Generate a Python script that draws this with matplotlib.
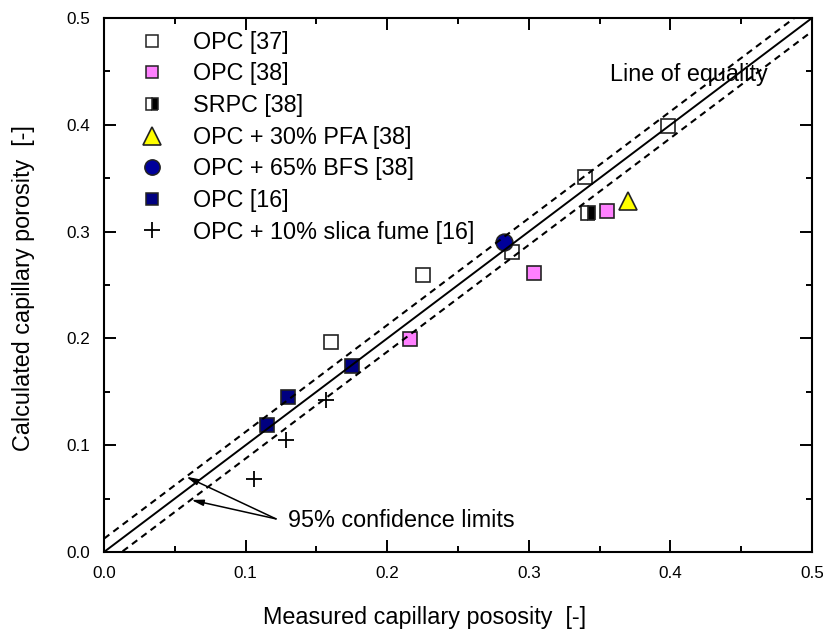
import matplotlib
matplotlib.use("Agg")
import matplotlib.pyplot as plt
from matplotlib.lines import Line2D

plt.rcParams['font.family'] = ['Liberation Sans', 'DejaVu Sans']

# Measured vs calculated capillary porosity, by mix and source
opc37_x = [0.160, 0.225, 0.288, 0.340, 0.398]
opc37_y = [0.197, 0.259, 0.281, 0.351, 0.399]

opc38_x = [0.216, 0.304, 0.355]
opc38_y = [0.199, 0.261, 0.319]

srpc38_x = [0.342]
srpc38_y = [0.317]

pfa38_x = [0.370]
pfa38_y = [0.329]

bfs38_x = [0.2825]
bfs38_y = [0.290]

opc16_x = [0.1153, 0.130, 0.1754]
opc16_y = [0.119, 0.145, 0.174]

sf16_x = [0.106, 0.1285, 0.1566]
sf16_y = [0.068, 0.105, 0.142]

labels = ["OPC [37]", "OPC [38]", "SRPC [38]", "OPC + 30% PFA [38]",
          "OPC + 65% BFS [38]", "OPC [16]", "OPC + 10% slica fume [16]"]

equality_x = [0.0, 0.5]
conf_offset = 0.0125

ticks = [0.0, 0.1, 0.2, 0.3, 0.4, 0.5]
tick_labels = ["0.0", "0.1", "0.2", "0.3", "0.4", "0.5"]

pink = '#FF80FF'
navy = '#000080'
edge = '#222222'

fig = plt.figure(figsize=(8.23, 6.32), dpi=100)
ax = fig.add_axes([104 / 823, 80 / 632, 708 / 823, 534 / 632])

ms_sq = 10.6
ax.plot(opc37_x, opc37_y, 's', ms=ms_sq, mfc='white', mec=edge, mew=1.2, zorder=3)
ax.plot(opc38_x, opc38_y, 's', ms=ms_sq, mfc=pink, mec=edge, mew=1.2, zorder=3)
ax.plot(srpc38_x, srpc38_y, 's', ms=ms_sq, fillstyle='right', mfc='black',
        mfcalt='white', mec=edge, mew=1.2, zorder=3)
ax.plot(pfa38_x, pfa38_y, '^', ms=12.5, mfc='#FFFF00', mec=edge, mew=1.2, zorder=3)
ax.plot(opc16_x, opc16_y, 's', ms=ms_sq, mfc=navy, mec=edge, mew=1.2, zorder=3)
ax.plot(sf16_x, sf16_y, '+', ms=12, mec='black', mew=1.3, zorder=3)
ax.plot(bfs38_x, bfs38_y, 'o', ms=12, mfc='#00009A', mec=edge, mew=1.2, zorder=3.5)

# Line of equality and 95% confidence band
ax.plot(equality_x, equality_x, '-', color='black', lw=1.4, zorder=4)
upper = [v + conf_offset for v in equality_x]
lower = [v - conf_offset for v in equality_x]
ax.plot(equality_x, upper, color='black', lw=1.5, dashes=(3.2, 2.4), zorder=4)
ax.plot(equality_x, lower, color='black', lw=1.5, dashes=(3.2, 2.4), zorder=4)

ax.set_xlim(0, 0.5)
ax.set_ylim(0, 0.5)
ax.set_xticks(ticks)
ax.set_xticklabels(tick_labels)
ax.set_yticks(ticks)
ax.set_yticklabels(tick_labels)
ax.set_xticks([0.05, 0.15, 0.25, 0.35, 0.45], minor=True)
ax.set_yticks([0.05, 0.15, 0.25, 0.35, 0.45], minor=True)
ax.tick_params(which='both', direction='in', top=True, right=True, width=1.4,
               labelsize=12.3, pad=10)
ax.tick_params(which='major', length=8.6)
ax.tick_params(which='minor', length=4.6)
for s in ax.spines.values():
    s.set_linewidth(1.5)

ax.set_xlabel("Measured capillary pososity  [-]", fontsize=16.8, va='center')
ax.xaxis.set_label_coords(0.453, -0.122)
ax.set_ylabel("Calculated capillary porosity  [-]", fontsize=16.8, va='center')
ax.yaxis.set_label_coords(-0.1144, 0.494)

ax.text(0.357, 0.4410, "Line of equality", fontsize=16.8, va='baseline', ha='left')
ax.text(0.130, 0.0234, "95% confidence limits", fontsize=16.8, va='baseline', ha='left')
arrow_style = dict(arrowstyle='-|>,head_length=0.7,head_width=0.18', color='black',
                   lw=1.1, shrinkA=0, shrinkB=0, mutation_scale=10)
ax.annotate("", xy=(0.0581, 0.0705), xytext=(0.1215, 0.031), arrowprops=arrow_style)
ax.annotate("", xy=(0.0617, 0.0487), xytext=(0.1215, 0.031), arrowprops=arrow_style)

handles = [
    Line2D([], [], ls='none', marker='s', ms=8.5, mfc='white', mec=edge, mew=1.1),
    Line2D([], [], ls='none', marker='s', ms=8.5, mfc=pink, mec=edge, mew=1.1),
    Line2D([], [], ls='none', marker='s', ms=8.5, fillstyle='right', mfc='black',
           mfcalt='white', mec=edge, mew=1.1),
    Line2D([], [], ls='none', marker='^', ms=12.5, mfc='#FFFF00', mec=edge, mew=1.2),
    Line2D([], [], ls='none', marker='o', ms=11, mfc='#00009A', mec=edge, mew=1.1),
    Line2D([], [], ls='none', marker='s', ms=9, mfc=navy, mec=edge, mew=1.1),
    Line2D([], [], ls='none', marker='+', ms=12, mec='black', mew=1.3),
]
ax.legend(handles, labels, loc='upper left', bbox_to_anchor=(0.052, 0.976),
          frameon=False, fontsize=16.8, borderaxespad=0, borderpad=0,
          handlelength=1.0, handletextpad=1.24, labelspacing=0.37)

fig.savefig("out.png", dpi=100)
